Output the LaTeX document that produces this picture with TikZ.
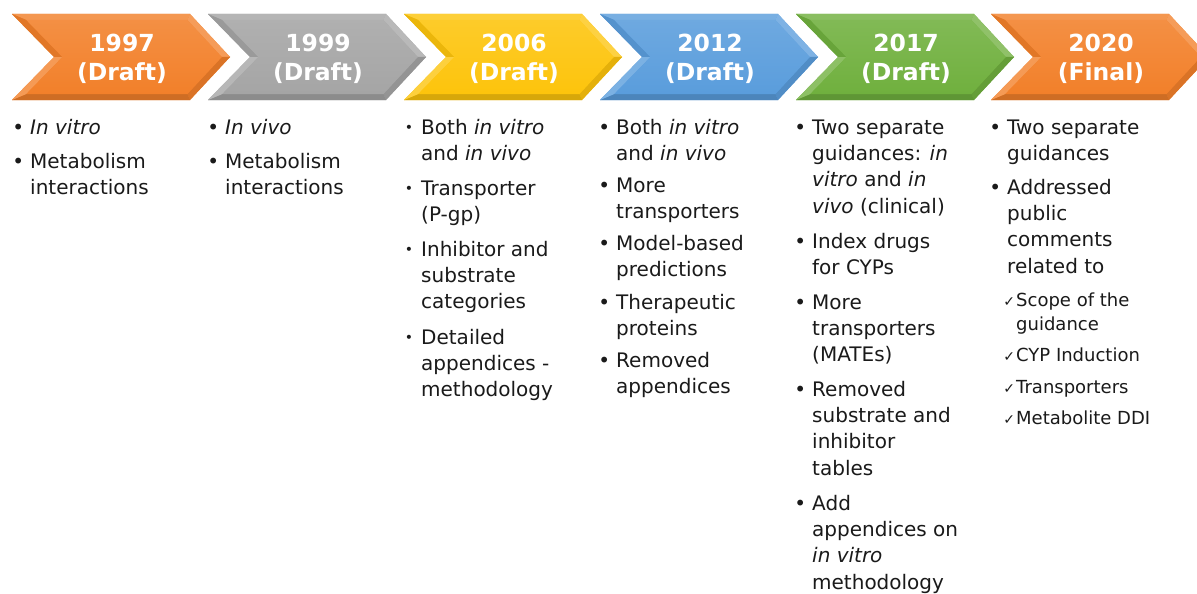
\documentclass[tikz,border=0pt]{standalone}
\usepackage{fontspec}
\setmainfont{DejaVu Sans}
\definecolor{cOrange}{HTML}{F2802A}
\definecolor{cGray}{HTML}{A5A5A5}
\definecolor{cYellow}{HTML}{FDC40C}
\definecolor{cBlue}{HTML}{5A9DDC}
\definecolor{cGreen}{HTML}{70B03E}
\definecolor{ink}{HTML}{1A1A1A}

% one bevelled chevron: #1 left x, #2 colour, #3 name, #4 label
\newcommand\chevshape[4]{%
  \fill[#2] ({#1},14) -- ({#1+178},14) -- ({#1+218},57) -- ({#1+178},100) -- ({#1},100) -- ({#1+42},57) -- cycle;
  \fill[#2!82!white] ({#1},14) -- ({#1+178},14) -- ({#1+175.4},20) -- ({#1+14.3},20) -- cycle;
  \fill[#2!78!white] ({#1+178},14) -- ({#1+218},57) -- ({#1+209.8},57) -- ({#1+175.4},20) -- cycle;
  \fill[#2!90!black] ({#1+218},57) -- ({#1+178},100) -- ({#1+175.4},94) -- ({#1+209.8},57) -- cycle;
  \fill[#2!85!black] ({#1+178},100) -- ({#1},100) -- ({#1+14.3},94) -- ({#1+175.4},94) -- cycle;
  \fill[#2!80!white] ({#1},100) -- ({#1+42},57) -- ({#1+50.4},57) -- ({#1+14.3},94) -- cycle;
  \fill[#2!93!black] ({#1+42},57) -- ({#1},14) -- ({#1+14.3},20) -- ({#1+50.4},57) -- cycle;
  \shade[top color=#2!88!white, bottom color=#2] ({#1+14.3},20) -- ({#1+175.4},20) -- ({#1+209.8},57) -- ({#1+175.4},94) -- ({#1+14.3},94) -- ({#1+50.4},57) -- cycle;
  \node[hdr] (#3) at ({#1+110},59) {#4};
}
% bullets and ticks; the strut fixes the height of the first line
\newcommand\bul{\strut\makebox[0pt][r]{•\hspace{6pt}}}
\newcommand\sbul{\strut\makebox[0pt][r]{\raisebox{1.5pt}{\fontsize{14}{14}\selectfont•}\hspace{8pt}}}
\newcommand\chk{\strut\makebox[0pt][r]{{\fontsize{14}{14}\selectfont✓}\hspace{1pt}}}

\begin{document}
\begin{tikzpicture}[x=1pt,y=-1pt,
  hdr/.style={text=white, font=\fontsize{23.5}{29}\selectfont\bfseries, align=center, inner sep=0pt},
  item/.style={anchor=north west, yshift=18.41pt, align=left, inner sep=0pt, text=ink, font=\fontsize{20}{26.3}\selectfont},
  chkitem/.style={anchor=north west, yshift=16.8pt, align=left, inner sep=0pt, text=ink, font=\fontsize{18}{24}\selectfont},
]
\useasboundingbox (0,0) rectangle (1197,594);
\fill[white] (0,0) rectangle (1197,594);

\chevshape{12}{cOrange}{h1997}{1997\\(Draft)}
\chevshape{208}{cGray}{h1999}{1999\\(Draft)}
\chevshape{404}{cYellow}{h2006}{2006\\(Draft)}
\chevshape{600}{cBlue}{h2012}{2012\\(Draft)}
\chevshape{796}{cGreen}{h2017}{2017\\(Draft)}
\chevshape{991}{cOrange}{h2020}{2020\\(Final)}

% 1997
\node[item] (a1) at (30,134) {\bul\itshape In vitro};
\node[item] (a2) at (30,168) {\bul Metabolism\\interactions};
% 1999
\node[item] (b1) at (225,134) {\bul\itshape In vivo};
\node[item] (b2) at (225,168) {\bul Metabolism\\interactions};
% 2006
\node[item] (c1) at (421,134) {\sbul Both \textit{in vitro}\\and \textit{in vivo}};
\node[item] (c2) at (421,195) {\sbul Transporter\\(P-gp)};
\node[item] (c3) at (421,256) {\sbul Inhibitor and\\substrate\\categories};
\node[item] (c4) at (421,344) {\sbul Detailed\\appendices -\\methodology};
% 2012
\node[item] (d1) at (616,134) {\bul Both \textit{in vitro}\\and \textit{in vivo}};
\node[item] (d2) at (616,192) {\bul More\\transporters};
\node[item] (d3) at (616,250) {\bul Model-based\\predictions};
\node[item] (d4) at (616,309) {\bul Therapeutic\\proteins};
\node[item] (d5) at (616,367) {\bul Removed\\appendices};
% 2017
\node[item] (e1) at (812,134) {\bul Two separate\\guidances: \textit{in}\\\textit{vitro} and \textit{in}\\\textit{vivo} (clinical)};
\node[item] (e2) at (812,248) {\bul Index drugs\\for CYPs};
\node[item] (e3) at (812,309) {\bul More\\transporters\\(MATEs)};
\node[item] (e4) at (812,396) {\bul Removed\\substrate and\\inhibitor\\tables};
\node[item] (e5) at (812,510) {\bul Add\\appendices on\\\textit{in vitro}\\methodology};
% 2020
\node[item] (f1) at (1007,134) {\bul Two separate\\guidances};
\node[item] (f2) at (1007,194) {\bul Addressed\\public\\comments\\related to};
\node[chkitem] (f3) at (1016,306) {\chk Scope of the\\guidance};
\node[chkitem] (f4) at (1016,361) {\chk CYP Induction};
\node[chkitem] (f5) at (1016,393) {\chk Transporters};
\node[chkitem] (f6) at (1016,424) {\chk Metabolite DDI};
\end{tikzpicture}
\end{document}
